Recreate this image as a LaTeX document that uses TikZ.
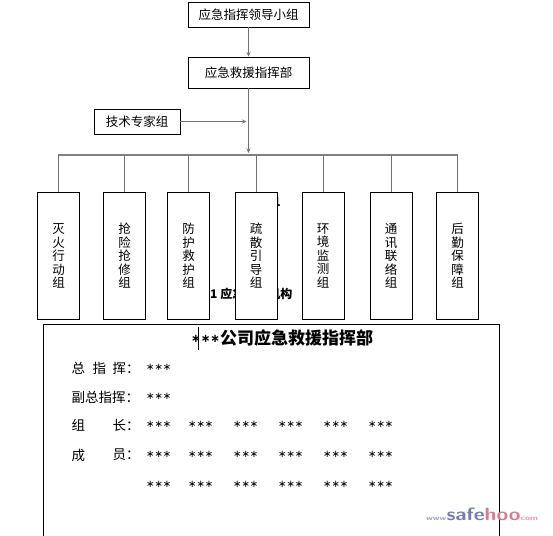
\documentclass[tikz,border=0pt]{standalone}
\usepackage{fontspec}
\newfontfamily\cjk{Noto Sans CJK SC}
\newfontfamily\starfont{DejaVu Sans}
\usetikzlibrary{arrows.meta}
\definecolor{wmblue}{RGB}{112,124,176}
\definecolor{wmred}{RGB}{214,124,142}
\begin{document}
\begin{tikzpicture}[x=1pt,y=-1pt,
  box/.style={draw=black, line width=0.9pt, fill=white, inner sep=0pt, font=\cjk\fontsize{12.5}{13.5}\selectfont},
  vbox/.style={box, minimum width=42, minimum height=127, align=center, anchor=north},
  conn/.style={draw=black!55, line width=1pt},
  bus/.style={draw=black!50, line width=1.8pt},
  arr/.style={conn, -{Stealth[length=4.5pt,width=4pt]}},
  txt/.style={font=\cjk\fontsize{13.5}{14}\selectfont, inner sep=0pt, anchor=west},
  star/.style={font=\starfont\fontsize{10}{10}\selectfont, inner sep=0pt, anchor=west}]
\useasboundingbox (0,0) rectangle (553,535);
\fill[white] (0,0) rectangle (553,535);

% caption text (partly hidden behind the boxes)
\node[font=\cjk\bfseries\fontsize{12}{13}\selectfont, inner sep=0pt, anchor=east] (cap1) at (281,202) {图1};
\node[font=\cjk\bfseries\fontsize{12}{13}\selectfont, inner sep=0pt, anchor=west] (cap2) at (198,294) {图1\ 应急救援机构};

\node[box, minimum width=121, minimum height=25] (lead) at (248.5,14.5) {应急指挥领导小组};
\node[box, minimum width=121, minimum height=31] (hq) at (248.5,72.5) {应急救援指挥部};
\node[box, minimum width=86, minimum height=25] (tech) at (137,121.5) {技术专家组};

\coordinate (busL) at (58,155);
\coordinate (busR) at (458,155);
\coordinate (busM) at (248.5,153);
\coordinate (techEnd) at (246.5,121.5);

\draw[arr] (lead.south) -- (hq.north);
\draw[arr] (hq.south) -- (busM);
\draw[arr] (tech.east) -- (techEnd);
\draw[bus] (busL) -- (busR);

\node[vbox] (g1) at (58.5,192) {灭\\火\\行\\动\\组};
\node[vbox] (g2) at (124.5,192) {抢\\险\\抢\\修\\组};
\node[vbox] (g3) at (188.5,192) {防\\护\\救\\护\\组};
\node[vbox] (g4) at (256,192) {疏\\散\\引\\导\\组};
\node[vbox] (g5) at (323,192) {环\\境\\监\\测\\组};
\node[vbox] (g6) at (391,192) {通\\讯\\联\\络\\组};
\node[vbox] (g7) at (457.5,192) {后\\勤\\保\\障\\组};

\foreach \g in {g1,g2,g3,g4,g5,g6,g7}
  \draw[conn] (\g.north |- busL) -- (\g.north);

% bottom panel (open at the bottom)
\draw[line width=1pt] (43,540) -- (43,324.5) -- (499,324.5) -- (499,540);
\node[inner sep=0pt, anchor=west] (title) at (191,338)
  {\raisebox{2pt}{\starfont\bfseries\fontsize{11.5}{12}\selectfont ∗∗∗}{\cjk\bfseries\fontsize{17}{18}\selectfont 公司应急救援指挥部}};
\coordinate (curT) at (198.5,327);
\coordinate (curB) at (198.5,350);
\draw[line width=0.8pt] (curT) -- (curB);

\node[txt] (r1a) at (71.5,368) {总};
\node[txt] (r1b) at (92.5,368) {指};
\node[txt] (r1c) at (112.5,368) {挥：};
\node[star] (s1) at (146,367) {∗∗∗};
\node[txt] (r2) at (71.5,397) {副总指挥：};
\node[star] (s2) at (146,396) {∗∗∗};
\node[txt] (r3a) at (71.5,425) {组};
\node[txt] (r3b) at (112.5,425) {长：};
\node[txt] (r4a) at (71.5,455) {成};
\node[txt] (r4b) at (112.5,455) {员：};
\foreach \y/\n in {424/a,454/b,484/c}
  \foreach \x [count=\i] in {146,188,233,278,323,368}
    \node[star] (st\n\i) at (\x,\y) {∗∗∗};

% watermark
\node[inner sep=0pt, anchor=west] (wm) at (426,514)
  {\scalebox{1.3}[1]{\sffamily\bfseries\fontsize{7}{7}\selectfont\color{wmblue!70}www}%
   \scalebox{1.25}[1.05]{\sffamily\bfseries\fontsize{17}{17}\selectfont\color{wmblue}safe\color{wmred}hoo}%
   \scalebox{1.3}[1]{\sffamily\bfseries\fontsize{7}{7}\selectfont\color{wmred!80}com}};
\end{tikzpicture}
\end{document}
